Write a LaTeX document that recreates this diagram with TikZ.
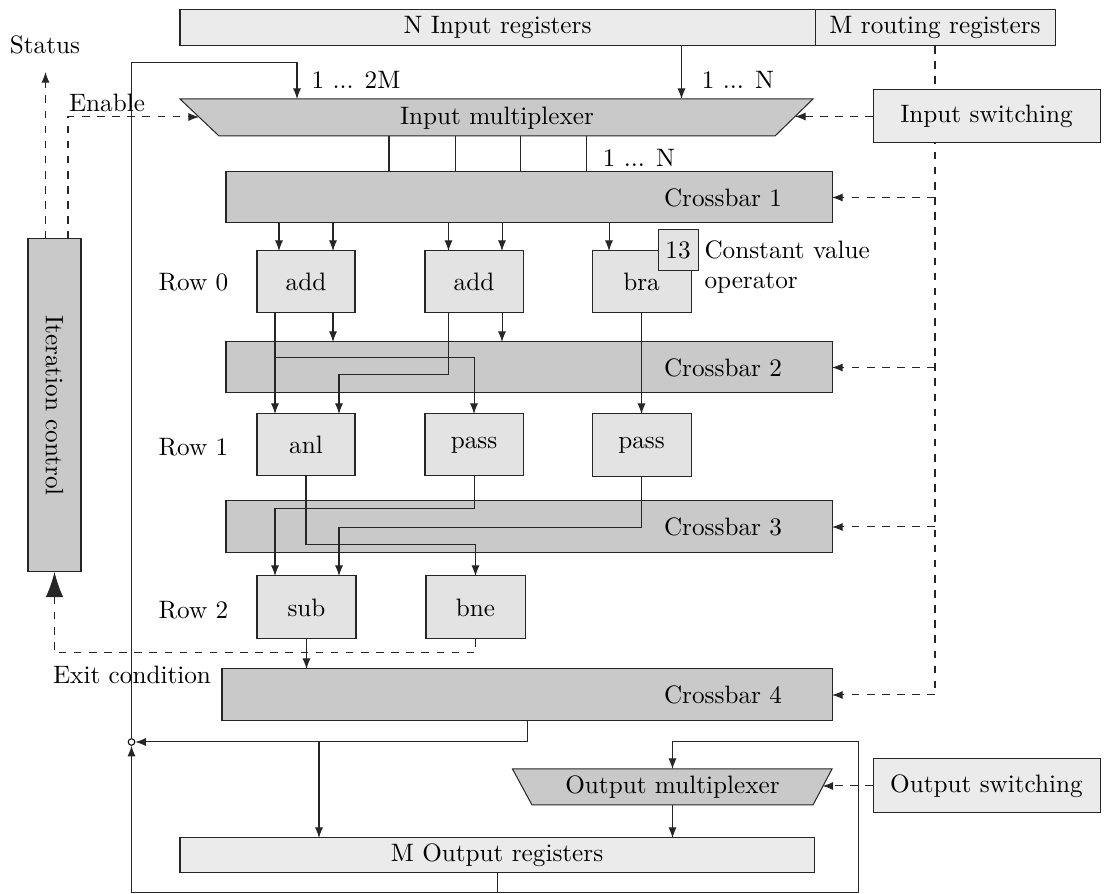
\documentclass[tikz,border=0pt]{standalone}
\usetikzlibrary{arrows.meta,calc}
\begin{document}
\begin{tikzpicture}[x=0.397pt,y=-0.397pt,
  box/.style={draw=black!85, inner sep=0pt, outer sep=0pt},
  % a box given by two opposite corners
  span/.style n args={4}{minimum width={(#3-#1)*0.397pt}, minimum height={(#4-#2)*0.397pt},
    at={(0.5*#1+0.5*#3, 0.5*#2+0.5*#4)}},
  reg/.style={box, fill=black!8},
  op/.style={box, fill=black!11},
  xbar/.style={box, fill=black!21},
  txt/.style={inner sep=0pt},
  wire/.style={draw=black!85},
  arr/.style={wire, -{Latex[length=4.2pt,width=3.2pt]}},
  ctl/.style={arr, dashed},
  bigtip/.style={-{Latex[length=10pt,width=7pt]}},
  route/.style={draw=black!85, dashed, line width=0.8pt}
]
\useasboundingbox (0,0) rectangle (1112,894);

% column positions used by the wiring
\coordinate (k45) at (45.5,0);
\coordinate (k68) at (68,0);
\coordinate (k275) at (275,0);
\coordinate (k279) at (279,0);
\coordinate (k319) at (319,0);
\coordinate (k333) at (333,0);
\coordinate (k339) at (339,0);
\coordinate (k389) at (389,0);
\coordinate (k448) at (448.5,0);
\coordinate (k455) at (455,0);
\coordinate (k502) at (502,0);
\coordinate (k520) at (520,0);
\coordinate (k586) at (586,0);
\coordinate (k609) at (609,0);

% registers at the top
\node[reg, span={180}{10}{815}{46}] (inreg) {N Input registers};
\node[reg, span={815}{10}{1055}{46}] (rtreg) {M routing registers};

% crossbars
\node[xbar, span={226}{172}{832}{223}] (cb1) {};
\node[xbar, span={226}{342}{832}{393}] (cb2) {};
\node[xbar, span={226}{501}{832}{553}] (cb3) {};
\node[xbar, span={222}{669}{832}{721}] (cb4) {};
\node[txt] (cb1t) at (723,197.5) {Crossbar 1};
\node[txt] (cb2t) at (723,367.5) {Crossbar 2};
\node[txt] (cb3t) at (723,527) {Crossbar 3};
\node[txt] (cb4t) at (723,695) {Crossbar 4};

% routing control line, running behind the switching box
\draw[route] (rtreg.south) -- (rtreg.south |- cb4.east);
\foreach \c in {cb1,cb2,cb3,cb4}
  \draw[ctl] (rtreg.south |- \c.east) -- (\c.east);

\node[reg, span={873}{90}{1100}{143}] (insw) {Input switching};
\node[reg, span={873}{759}{1100}{813}] (outsw) {Output switching};

% input multiplexer
\coordinate (im1) at (180,99);
\coordinate (im2) at (813,99);
\coordinate (im3) at (775,136);
\coordinate (im4) at (219,136);
\draw[xbar] (im1) -- (im2) -- (im3) -- (im4) -- cycle;
\node[txt] (imux) at (497,118) {Input multiplexer};
\coordinate (imL) at (199,117);
\coordinate (imR) at (795,116.5);
\coordinate (im2M) at (297,99);
\coordinate (imN) at (681.5,99);

% output multiplexer
\coordinate (om1) at (512.5,769);
\coordinate (om2) at (832,769);
\coordinate (om3) at (813,805);
\coordinate (om4) at (532,805);
\draw[xbar] (om1) -- (om2) -- (om3) -- (om4) -- cycle;
\node[txt] (omux) at (672.5,787.5) {Output multiplexer};
\coordinate (omT) at (672.5,769);
\coordinate (omB) at (672.5,805);
\coordinate (omR) at (822.5,786);

\node[reg, span={180}{838}{814}{873}] (outreg) {M Output registers};

% operators
\node[op, span={257}{251}{355}{313}] (add1) {add};
\node[op, span={425}{251}{523}{313}] (add2) {add};
\node[op, span={592}{251}{691}{313}] (bra) {bra};
\node[op, span={658}{230}{698}{271}] (cval) {13};
\node[op, span={257}{414}{355}{476}] (anl) {anl};
\node[op, span={425}{414}{523}{476}] (pass2) {pass};
\node[op, span={592}{414}{691}{477}] (pass3) {pass};
\node[op, span={257}{576}{356}{639}] (sub) {sub};
\node[op, span={426}{576}{525}{639}] (bne) {bne};

\node[txt, anchor=west, align=left] (cvt) at (704,267) {Constant value\\operator};
\node[txt] (row0) at (193.5,282) {Row 0};
\node[txt] (row1) at (193.5,447) {Row 1};
\node[txt] (row2) at (193.5,610) {Row 2};

% iteration control
\node[xbar, span={28}{239}{81}{572}] (itc) {};
\node[txt, rotate=-90] (itct) at (54.5,405.5) {Iteration control};

\node[txt] (status) at (45,45) {Status};
\node[txt] (enable) at (107,103) {Enable};
\node[txt] (exitc) at (132,675) {Exit condition};
\node[txt] (l2m) at (356,80) {1 ... 2M};
\node[txt] (lN) at (738,80) {1 ... N};
\node[txt] (lNo) at (639,158) {1 ... N};

\coordinate (stip) at (45.5,72);
\coordinate (entop) at (68,117);

% control signals
\draw[ctl] (itc.north -| k45) -- (stip);
\draw[ctl] (itc.north -| k68) -- (entop) -- (imL);
\draw[ctl] (insw.west) -- (imR);
\draw[ctl] (outsw.west) -- (omR);
\draw[wire, dashed, bigtip] (bne.south) -- ++(0,14) -| (itc.south);

% junction of the feedback loop
\node[circle, draw=black, fill=white, inner sep=0pt, minimum size=2.6pt] (junc) at (131.5,742) {};
\coordinate (lt) at (131.5,63);

% data paths into the input multiplexer
\draw[arr] (junc.north) -- (lt) -| (im2M);
\draw[arr] (inreg.south -| imN) -- (imN);

% multiplexer to crossbar 1
\foreach \k in {k389,k455,k520,k586}
  \draw[wire] (im4 -| \k) -- (cb1.north -| \k);

% crossbar 1 to row 0
\draw[arr] (cb1.south -| k279) -- (add1.north -| k279);
\draw[arr] (cb1.south -| k333) -- (add1.north -| k333);
\draw[arr] (cb1.south -| k448) -- (add2.north -| k448);
\draw[arr] (cb1.south -| k502) -- (add2.north -| k502);
\draw[arr] (cb1.south -| k609) -- (bra.north -| k609);

% row 0 to crossbar 2 and row 1
\draw[arr] (add1.south -| k333) -- (cb2.north -| k333);
\draw[arr] (add2.south -| k502) -- (cb2.north -| k502);
\draw[arr] (add1.south -| k275) -- (anl.north -| k275);
\draw[arr] (add1.south -| k275) -- ++(0,45) -| (pass2.north);
\draw[arr] (add2.south -| k448) -- ++(0,62) -| (anl.north -| k339);
\draw[arr] (bra.south) -- (pass3.north);

% row 1 to row 2
\draw[arr] (anl.south) -- ++(0,69) -| (bne.north);
\draw[arr] (pass2.south) -- ++(0,33) -| (sub.north -| k275);
\draw[arr] (pass3.south) -- ++(0,51) -| (sub.north -| k339);

% row 2 to crossbar 4
\draw[arr] (sub.south) -- (sub.south |- cb4.north);

% crossbar 4 outputs and feedback
\draw[arr] (cb4.south) |- (junc.east);
\draw[arr] (junc.east -| k319) -- (outreg.north -| k319);
\draw[arr] (omB) -- (outreg.north -| omB);
\draw[arr] (outreg.south) -- ++(0,20) -| (junc.south);
\draw[arr] (outreg.south) -- ++(0,20) -| (858.5,742) -| (omT);
\end{tikzpicture}
\end{document}
